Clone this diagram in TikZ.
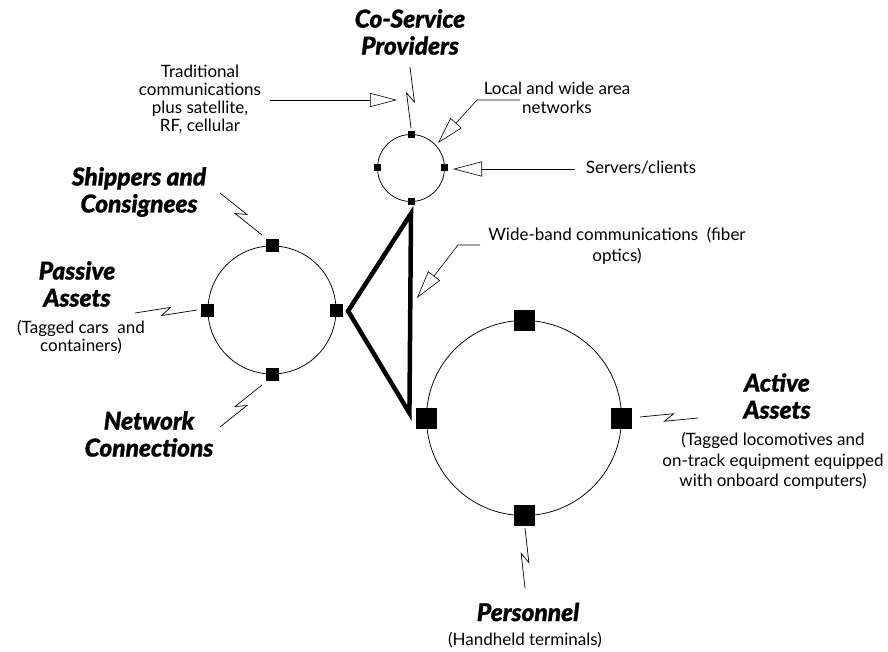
\documentclass[tikz,border=0pt]{standalone}
\usepackage{fontspec}
\setmainfont{Lato}
\newfontfamily\headfont{Lato Black Italic}[FakeBold=1.2]
\usetikzlibrary{calc,arrows.meta}

\tikzset{
  body/.style={font=\fontsize{17}{#1}\selectfont, align=center, inner sep=0pt},
  body/.default=18.5,
  head/.style={font=\headfont\fontsize{24.5}{27}\selectfont, align=center, inner sep=0pt},
  ring/.style={circle, draw, line width=0.75pt, inner sep=0pt},
  port/.style={rectangle, fill=black, inner sep=0pt, minimum size=#1},
  bolt/.style={line width=0.7pt, to path={
      -- ($(\tikztostart)!.5!(\tikztotarget)!6pt!#1:(\tikztotarget)$)
      -- ($(\tikztostart)!.5!(\tikztotarget)!6pt!#1:(\tikztostart)$)
      -- (\tikztotarget)}},
  bolt/.default=40,
  hollow/.style args={#1/#2}{line width=0.6pt,
      -{Triangle[open,length=#1pt,width=#2pt]}},
  trunk/.style={line width=4.5pt, line join=miter}
}

\begin{document}
\begin{tikzpicture}[x=1pt,y=-1pt]
\useasboundingbox (0,0) rectangle (888,652);

% --- rings and their ports ---
\node[ring, minimum size=67pt] (sc) at (411,168) {};
\node[port=7pt] (sct) at (sc.north) {};
\node[port=7pt] (scr) at (sc.east) {};
\node[port=7pt] (scb) at (sc.south) {};
\node[port=7pt] (scl) at (sc.west) {};

\node[ring, minimum size=128pt] (mc) at (272,310) {};
\node[port=13pt] (mct) at (mc.north) {};
\node[port=13pt] (mcr) at (mc.east) {};
\node[port=13pt] (mcb) at (mc.south) {};
\node[port=13pt] (mcl) at (mc.west) {};

\node[ring, minimum size=195pt] (lc) at (524,418) {};
\node[port=21pt] (lct) at (lc.north) {};
\node[port=21pt] (lcr) at (lc.east) {};
\node[port=21pt] (lcb) at (lc.south) {};
\node[port=21pt] (lcl) at (lc.west) {};

% --- wide-band trunk between the three rings ---
\coordinate (tA) at ($(scb.south)+(0,8)$);
\coordinate (tB) at ($(mcr.east)+(5,1)$);
\coordinate (tC) at ($(lcl.west)+(-6,-5)$);
\draw[trunk] (tA) -- (tB) -- (tC) -- cycle;

% --- labels ---
\node[head] (cosv) at (410,32) {Co-Service\\Providers};
\node[body=18] (trad) at (200,99) {Traditional\\communications\\plus satellite,\\RF, cellular};
\node[body] (lwan) at (557,98) {Local and wide area\\networks};
\node[body] (srv) at (641,168) {Servers/clients};
\node[head] (ship) at (139,192) {Shippers and\\Consignees};
\node[head] (pasv) at (77,284) {Passive\\Assets};
\node[body] (pasvn) at (81,337) {(Tagged cars~ and\\containers)};
\node[head] (netw) at (149,434) {Network\\Connections};
\node[body=21] (wide) at (617,246) {Wide-band communications~ (fiber\\optics)};
\node[head] (actv) at (777,396) {Active\\Assets};
\node[body=20.5] (actvn) at (773,461) {(Tagged locomotives and\\on-track equipment equipped\\with onboard computers)};
\node[head] (pers) at (528,612) {Personnel};
\node[body] (persn) at (525,640) {(Handheld terminals)};

% --- radio links (lightning connectors) ---
\coordinate (csA) at (410,67);   \coordinate (csB) at (411,128);
\coordinate (shA) at (220,193);  \coordinate (shB) at (262,235);
\coordinate (paA) at (135,313);  \coordinate (paB) at (197,310);
\coordinate (ncA) at (220,427);  \coordinate (ncB) at (262,385);
\coordinate (acA) at (640,417);  \coordinate (acB) at (698,418);
\coordinate (peA) at (525,528);  \coordinate (peB) at (525,588);
\draw[bolt] (csA) to (csB);
\draw[bolt] (shA) to (shB);
\draw[bolt] (paA) to (paB);
\draw[bolt=-40] (ncA) to (ncB);
\draw[bolt] (acA) to (acB);
\draw[bolt] (peA) to (peB);

% --- callout arrows ---
\coordinate (trA) at (270,100);  \coordinate (trT) at (397,100);
\draw[hollow=27/14] (trA) -- (trT);

\coordinate (lwA) at (520,100);  \coordinate (lwB) at (477,100);
\coordinate (lwT) at (438,143);
\draw[hollow=27/15] (lwA) -- (lwB) -- (lwT);

\coordinate (svA) at (575,169);  \coordinate (svT) at (453,169);
\draw[hollow=29/15] (svA) -- (svT);

\coordinate (wbA) at (480,245);  \coordinate (wbB) at (458,245);
\coordinate (wbT) at (417,298);
\draw[hollow=28/15] (wbA) -- (wbB) -- (wbT);
\end{tikzpicture}
\end{document}
